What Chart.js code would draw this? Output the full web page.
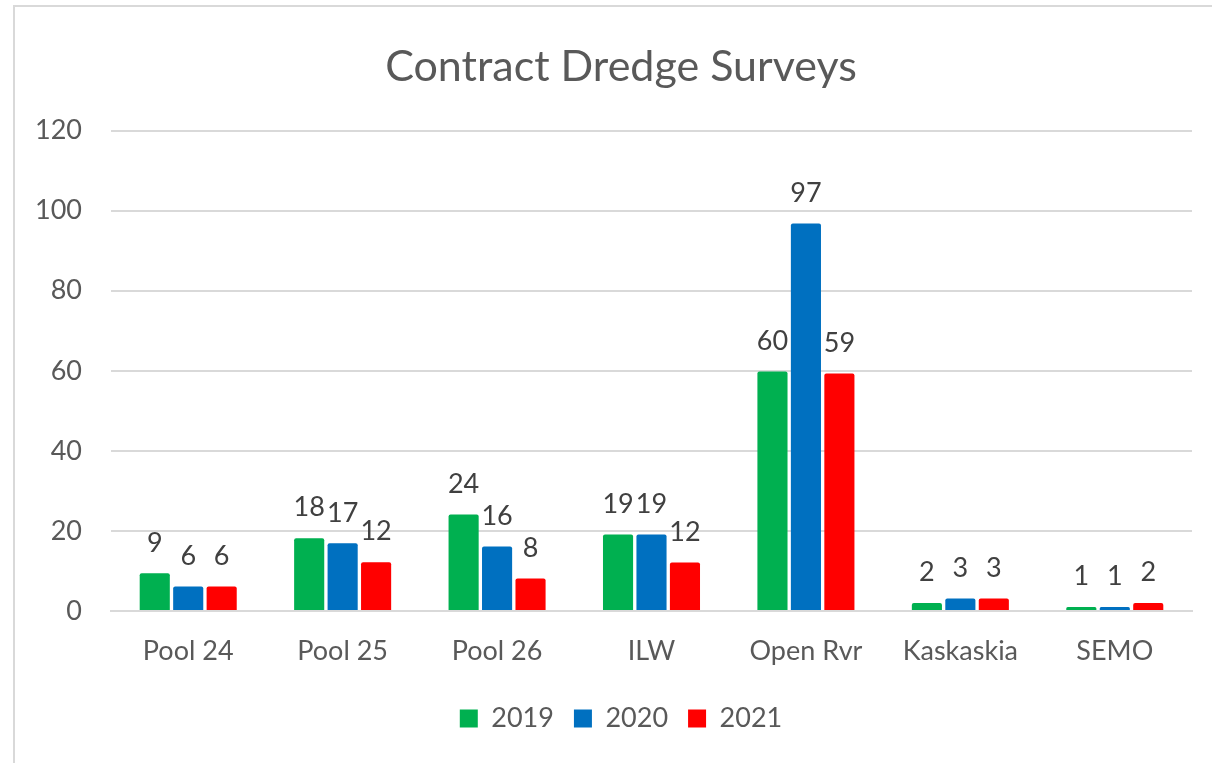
<!DOCTYPE html>
<html>
<head>
<meta charset="utf-8">
<script src="https://cdn.jsdelivr.net/npm/chart.js@4"></script>
<style>
  html, body { margin: 0; padding: 0; background: #fff; overflow: hidden; }
  .frame {
    position: absolute; left: 13px; top: 5px;
    width: 1216px; height: 757px;
    border-left: 2px solid #d9d9d9; border-top: 2px solid #d9d9d9;
  }
  .frame canvas { display: block; }
</style>
</head>
<body>
<div class="frame"><canvas id="dredgeChart" width="1216" height="757"></canvas></div>
<script>
// ============ DATA ============
const categories = ['Pool 24', 'Pool 25', 'Pool 26', 'ILW', 'Open Rvr', 'Kaskaskia', 'SEMO'];
const surveys2019 = [9.4, 18.2, 24.1, 19.1, 59.8, 2, 1];
const surveys2020 = [6.1, 16.9, 16.1, 19.1, 96.8, 3.1, 1];
const surveys2021 = [6.1, 12.2, 8.1, 12.1, 59.3, 3.1, 2];
const yTicks = [0, 20, 40, 60, 80, 100, 120];

const FONT = 'Lato, "Open Sans", sans-serif';
const GREY = '#595959';

// ============ VALUE LABELS ABOVE BARS ============
const barLabels = {
    id: 'barLabels',
    afterDatasetsDraw(chart) {
        const ctx = chart.ctx;
        ctx.save();
        ctx.font = '27px ' + FONT;
        ctx.fillStyle = '#404040';
        ctx.textAlign = 'center';
        ctx.textBaseline = 'bottom';
        chart.data.datasets.forEach((ds, i) => {
            chart.getDatasetMeta(i).data.forEach((bar, j) => {
                ctx.fillText(Math.round(ds.data[j]), bar.x, bar.y - 17);
            });
        });
        ctx.restore();
    }
};

const ctx = document.getElementById('dredgeChart');
new Chart(ctx.getContext('2d'), {
    type: 'bar',
    data: {
        labels: categories,
        datasets: [
            { label: '2019', data: surveys2019, backgroundColor: '#00b050' },
            { label: '2020', data: surveys2020, backgroundColor: '#0070c0' },
            { label: '2021', data: surveys2021, backgroundColor: '#ff0000' }
        ]
    },
    options: {
        responsive: false,
        animation: false,
        datasets: { bar: { barPercentage: 0.9, categoryPercentage: 0.65, borderRadius: 2 } },
        // left padding keeps title + legend centred like the original
        layout: { padding: { left: 35, right: 39, top: 0, bottom: 22 } },
        plugins: {
            title: {
                display: true,
                text: 'Contract Dredge Surveys',
                color: GREY,
                font: { family: FONT, size: 43, weight: 'normal' },
                padding: { top: 34, bottom: 38 }
            },
            legend: {
                position: 'bottom',
                labels: {
                    color: GREY,
                    font: { family: FONT, size: 27 },
                    boxWidth: 18,
                    boxHeight: 18,
                    padding: 20
                }
            },
            tooltip: { enabled: false }
        },
        scales: {
            x: {
                grid: { display: false },
                border: { display: true, color: '#d9d9d9', width: 2 },
                ticks: { color: GREY, font: { family: FONT, size: 27 }, padding: 16 },
                afterFit(scale) { scale.height = 74; }
            },
            y: {
                min: 0,
                max: 120,
                afterBuildTicks(scale) { scale.ticks = yTicks.map(v => ({ value: v })); },
                grid: { color: '#d9d9d9', lineWidth: 2, drawTicks: false },
                border: { display: false },
                ticks: { color: GREY, font: { family: FONT, size: 27 }, padding: 29 },
                afterFit(scale) {
                    scale.width = 61;
                    // labels run into the left padding, so don't clip them to the axis box
                    scale._computeLabelArea = () => undefined;
                }
            }
        }
    },
    plugins: [barLabels]
});
</script>
</body>
</html>
